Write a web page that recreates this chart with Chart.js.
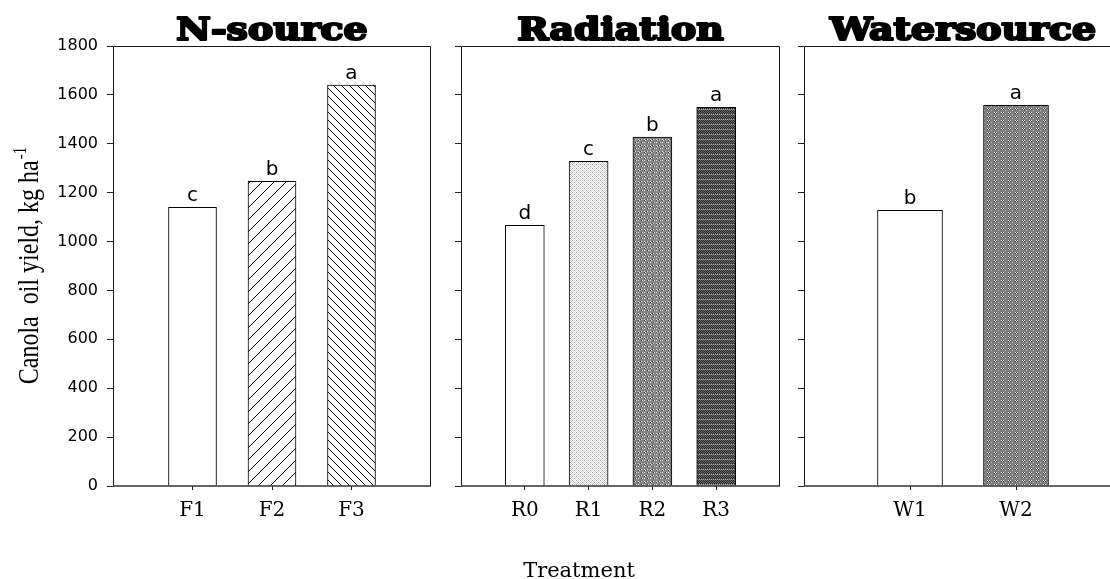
<!DOCTYPE html>
<html>
<head>
<meta charset="utf-8">
<script src="https://cdn.jsdelivr.net/npm/chart.js@4.4.0/dist/chart.umd.min.js"></script>
<style>
    html, body { margin: 0; padding: 0; background: #fff; overflow: hidden; }
    #figure { position: relative; width: 1110px; height: 579px; overflow: hidden; }
    .panel { position: absolute; top: 0; height: 579px; }
</style>
</head>
<body>
<div id="figure">
    <div class="panel" style="left:0;width:445px"><canvas id="nChart"></canvas></div>
    <div class="panel" style="left:445px;width:345px"><canvas id="radChart"></canvas></div>
    <div class="panel" style="left:790px;width:345px"><canvas id="waterChart"></canvas></div>
</div>
<script>
/* ---------------------------------------------------------------------------
   Data
   --------------------------------------------------------------------------- */
const panelTitles = ["N-source", "Radiation", "Watersource"];

const nCategories = ["F1", "F2", "F3"];
const nYield = [1140, 1246, 1640];
const nLetters = ["c", "b", "a"];

const radCategories = ["R0", "R1", "R2", "R3"];
const radYield = [1066, 1328, 1427, 1549];
const radLetters = ["d", "c", "b", "a"];

const waterCategories = ["W1", "W2"];
const waterYield = [1128, 1557];
const waterLetters = ["b", "a"];

const yMin = 0;
const yMax = 1800;
const yStep = 200;

const yTitle = "Canola  oil yield, kg ha";
const yTitleSup = "-1";
const xTitle = "Treatment";

/* ---------------------------------------------------------------------------
   Fill patterns (hatches and dotted greys)
   --------------------------------------------------------------------------- */
function hatchTile(size, dir) {
    const c = document.createElement("canvas");
    c.width = size; c.height = size;
    const g = c.getContext("2d");
    g.fillStyle = "#fff";
    g.fillRect(0, 0, size, size);
    g.strokeStyle = "#000";
    g.lineWidth = 1;
    g.beginPath();
    if (dir === "/") {
        g.moveTo(0, size); g.lineTo(size, 0);
        g.moveTo(-1, 1); g.lineTo(1, -1);
        g.moveTo(size - 1, size + 1); g.lineTo(size + 1, size - 1);
    } else {
        g.moveTo(0, 0); g.lineTo(size, size);
        g.moveTo(-1, size - 1); g.lineTo(1, size + 1);
        g.moveTo(size - 1, -1); g.lineTo(size + 1, 1);
    }
    g.stroke();
    return g.createPattern(c, "repeat");
}

function pixelTile(rows, colors) {
    const c = document.createElement("canvas");
    c.width = rows[0].length; c.height = rows.length;
    const g = c.getContext("2d");
    rows.forEach((row, y) => {
        [...row].forEach((ch, x) => {
            g.fillStyle = colors[ch];
            g.fillRect(x, y, 1, 1);
        });
    });
    return g.createPattern(c, "repeat");
}

const lightDots = pixelTile(
    ["wlwg", "lwlw", "wgwl", "lwlw"],
    { w: "#ffffff", l: "#d9d9d9", g: "#a0a0a0" });
const mediumDots = pixelTile(
    ["mmmmmm", "mwmkwm", "mkwmmm", "mmmmmm", "mwmmkw", "mmmmmm"],
    { m: "#858585", w: "#e0e0e0", k: "#404040" });
const darkDots = pixelTile(
    ["dgdg", "gdgd", "dgdg", "gdgd", "lmlm"],
    { d: "#262626", g: "#6a6a6a", l: "#b0b0b0", m: "#606060" });
const waterDots = pixelTile(
    ["mwkwmmm", "mkwkmmm", "mmmmmlm", "mmmmmmm"],
    { m: "#7e7e7e", w: "#e8e8e8", k: "#3a3a3a", l: "#c0c0c0" });

const nFills = ["#ffffff", hatchTile(12, "/"), hatchTile(8, "\\")];
const radFills = ["#ffffff", lightDots, mediumDots, darkDots];
const waterFills = ["#ffffff", waterDots];

/* ---------------------------------------------------------------------------
   Panel builder
   --------------------------------------------------------------------------- */
function buildPanel(canvasId, opt) {
    const cats = opt.categories;

    // frame, significance letters and panel heading
    const decor = {
        id: "panelDecor",
        afterDatasetsDraw(chart) {
            const ctx = chart.ctx;
            const a = chart.chartArea;
            ctx.save();

            ctx.strokeStyle = "#1a1a1a";
            ctx.lineWidth = 1;
            ctx.beginPath();
            ctx.moveTo(a.left + 0.5, a.bottom);
            ctx.lineTo(a.left + 0.5, a.top + 0.5);
            ctx.lineTo(a.right - 0.5, a.top + 0.5);
            ctx.lineTo(a.right - 0.5, a.bottom);
            ctx.stroke();
            ctx.strokeStyle = "#333";
            ctx.lineWidth = 1.5;
            ctx.beginPath();
            ctx.moveTo(a.left, a.bottom);
            ctx.lineTo(a.right, a.bottom);
            ctx.stroke();

            ctx.fillStyle = "#000";
            ctx.font = '20px "DejaVu Sans"';
            ctx.textAlign = "center";
            ctx.textBaseline = "alphabetic";
            chart.getDatasetMeta(0).data.forEach((bar, i) => {
                ctx.fillText(opt.letters[i], bar.x, bar.y - 6);
            });

            ctx.translate((a.left + a.right) / 2, a.top - 6);
            ctx.scale(1.22, 1);
            ctx.font = 'bold 31px "DejaVu Serif"';
            ctx.fillText(opt.title, 0, 0);
            ctx.strokeStyle = "#000";
            ctx.lineJoin = "round";
            ctx.lineWidth = 2.2;
            ctx.strokeText(opt.title, 0, 0);

            ctx.restore();
            if (opt.extraDraw) opt.extraDraw(chart);
        }
    };

    return new Chart(document.getElementById(canvasId), {
        type: "bar",
        data: {
            datasets: [{
                data: opt.values.map((v, i) => ({ x: i + 1, y: v })),
                backgroundColor: opt.fills,
                borderColor: "#000",
                borderWidth: 1,
                barThickness: opt.barWidth
            }]
        },
        options: {
            responsive: true,
            maintainAspectRatio: false,
            animation: false,
            layout: { padding: { left: 0, right: opt.padRight, top: 46, bottom: 53 } },
            plugins: { legend: { display: false }, tooltip: { enabled: false } },
            scales: {
                x: {
                    type: "linear",
                    min: 0,
                    max: cats.length + 1,
                    offset: false,
                    afterBuildTicks: s => { s.ticks = cats.map((c, i) => ({ value: i + 1 })); },
                    afterFit: s => { s.height = 40; },
                    ticks: {
                        callback: v => cats[v - 1] ?? "",
                        color: "#000",
                        font: { family: "DejaVu Serif", size: 20 },
                        padding: 9,
                        maxRotation: 0,
                        autoSkip: false
                    },
                    grid: { drawOnChartArea: false, offset: false, tickLength: 4, color: "#222" },
                    border: { display: false }
                },
                y: {
                    min: yMin,
                    max: yMax,
                    afterFit: s => { s.width = opt.yAxisWidth; },
                    ticks: {
                        stepSize: yStep,
                        display: opt.showYLabels,
                        callback: v => String(v),
                        color: "#000",
                        font: { family: "DejaVu Sans", size: 16 },
                        padding: 9
                    },
                    grid: { drawOnChartArea: false, tickLength: 6, color: "#222" },
                    border: { display: false }
                }
            }
        },
        plugins: [decor]
    });
}

/* ---------------------------------------------------------------------------
   Figure-level axis titles
   --------------------------------------------------------------------------- */
function drawYTitle(chart) {
    const ctx = chart.ctx;
    const a = chart.chartArea;
    ctx.save();
    ctx.translate(38, (a.top + a.bottom) / 2);
    ctx.rotate(-Math.PI / 2);
    ctx.scale(1, 1.2);
    ctx.fillStyle = "#000";
    ctx.textAlign = "left";
    ctx.textBaseline = "alphabetic";
    ctx.font = '24px "Liberation Serif"';
    const mw = ctx.measureText(yTitle).width;
    ctx.font = '15px "Liberation Serif"';
    const sw = ctx.measureText(yTitleSup).width;
    const start = -(mw + sw) / 2;
    ctx.font = '24px "Liberation Serif"';
    ctx.fillText(yTitle, start, 0);
    ctx.font = '15px "Liberation Serif"';
    ctx.fillText(yTitleSup, start + mw + 1, -10);
    ctx.restore();
}

function drawXTitle(chart) {
    const ctx = chart.ctx;
    const a = chart.chartArea;
    ctx.save();
    ctx.fillStyle = "#000";
    ctx.textAlign = "center";
    ctx.textBaseline = "alphabetic";
    ctx.font = '21px "DejaVu Serif"';
    ctx.fillText(xTitle, a.left + 118, 577);
    ctx.restore();
}

buildPanel("nChart", {
    title: panelTitles[0], categories: nCategories, values: nYield, letters: nLetters,
    fills: nFills, barWidth: 48, yAxisWidth: 113, padRight: 14, showYLabels: true,
    extraDraw: drawYTitle
});
buildPanel("radChart", {
    title: panelTitles[1], categories: radCategories, values: radYield, letters: radLetters,
    fills: radFills, barWidth: 39, yAxisWidth: 16, padRight: 10, showYLabels: false,
    extraDraw: drawXTitle
});
buildPanel("waterChart", {
    title: panelTitles[2], categories: waterCategories, values: waterYield, letters: waterLetters,
    fills: waterFills, barWidth: 65, yAxisWidth: 14, padRight: 13, showYLabels: false
});
</script>
</body>
</html>
